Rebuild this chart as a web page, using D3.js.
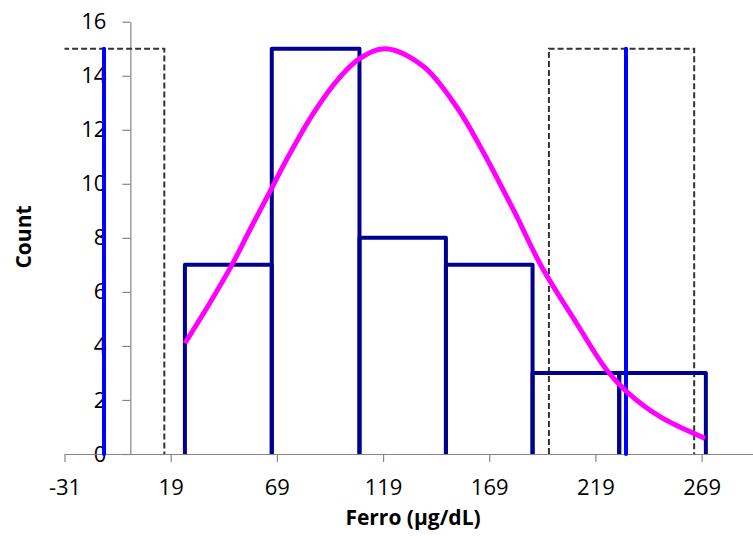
<!DOCTYPE html>
<html>
<head>
<meta charset="utf-8">
<script src="https://cdn.jsdelivr.net/npm/d3@7"></script>
<style>
  body { margin: 0; background: #fff; }
  svg { display: block; }
  .axis text { font-family: "Open Sans", sans-serif; font-size: 22px; fill: #000; }
  .axis path, .axis line { stroke: #868686; stroke-width: 1.2px; }
  .title { font-family: "Open Sans", sans-serif; font-size: 21px; font-weight: bold; }
</style>
</head>
<body>
<div id="grafico"></div>
<script>
// histogram bins (Ferro, ug/dL) and counts
var binEdges = [25.7, 66.6, 107.9, 148.6, 189.4, 230.2, 271.0];
var counts = [7, 15, 8, 7, 3, 3];

// fitted curve
var curveX = [25.7, 37.5, 47.7, 56.3, 65.8, 73.6, 86.1, 98.7, 108.1, 120.0, 137.9, 153.6, 164.6, 180.3, 193.7, 210.1, 224.3, 233.7, 249.4, 270.6];
var curveY = [4.10, 5.60, 6.98, 8.30, 9.72, 10.90, 12.60, 13.95, 14.64, 15.0, 14.35, 12.85, 11.40, 9.05, 6.93, 4.84, 3.11, 2.31, 1.38, 0.58];

// blue limit lines and dashed boxes
var limitLines = [-12.4, 233.4];
var limitHeight = 15;
var boxStart = [-40, 197.1];
var boxEnd = [16.0, 265.5];
var boxHeight = 15;

var xTicks = [-31, 19, 69, 119, 169, 219, 269];
var yTicks = [0, 2, 4, 6, 8, 10, 12, 14, 16];

var W = 753, H = 536;

var svg = d3.select("#grafico").append("svg")
	.attr("width", W)
	.attr("height", H);

// set the ranges
var x = d3.scaleLinear().domain([-31, 293.2]).range([64.5, 753]);
var y = d3.scaleLinear().domain([0, 16]).range([454, 21.7]);

svg.append("clipPath").attr("id", "plot")
  .append("rect")
	.attr("x", x(-31))
	.attr("y", 0)
	.attr("width", W - x(-31))
	.attr("height", y(0) + 3);

var line = d3.line()
	.x(function(d) { return x(d[0]); })
	.y(function(d) { return y(d[1]); });

var g = svg.append("g").attr("clip-path", "url(#plot)");

// dashed boxes
boxStart.forEach(function(s, i) {
	g.append("path")
		.attr("d", line([[s, 0], [s, boxHeight], [boxEnd[i], boxHeight], [boxEnd[i], 0]]))
		.style("fill", "none")
		.style("stroke", "#333")
		.style("stroke-width", 2)
		.style("stroke-dasharray", "6,3");
});

// histogram bars, open at the bottom
counts.forEach(function(c, i) {
	var a = binEdges[i], b = binEdges[i + 1];
	g.append("path")
		.attr("d", line([[a, 0], [a, c], [b, c], [b, 0]]))
		.style("fill", "none")
		.style("stroke", "#000090")
		.style("stroke-width", 4)
		.style("stroke-linejoin", "round");
});

// blue limit lines
limitLines.forEach(function(v) {
	g.append("path")
		.attr("d", line([[v, 0], [v, limitHeight]]))
		.style("stroke", "#0000ff")
		.style("stroke-width", 4)
		.style("stroke-linecap", "round");
});

// the curve
var curve = d3.line()
	.x(function(d, i) { return x(curveX[i]); })
	.y(function(d) { return y(d); })
	.curve(d3.curveCatmullRom.alpha(0.5));

g.append("path")
	.attr("d", curve(curveY))
	.style("fill", "none")
	.style("stroke", "#ff00ff")
	.style("stroke-width", 5);

// plain hyphen for negatives, like the original
function fmt(d) { return String(d); }

// Add the X Axis
svg.append("g")
	.attr("class", "axis")
	.attr("transform", "translate(0," + y(0) + ")")
	.call(d3.axisBottom(x).tickValues(xTicks).tickFormat(fmt).tickSize(8).tickSizeOuter(0).tickPadding(17))
	.lower();

// Add the Y Axis
svg.append("g")
	.attr("class", "axis")
	.attr("transform", "translate(" + x(0) + ",0)")
	.call(d3.axisLeft(y).tickValues(yTicks).tickFormat(fmt).tickSize(8).tickSizeOuter(0).tickPadding(16))
	.lower();

svg.append("text")
	.attr("class", "title")
	.attr("x", 413)
	.attr("y", 525)
	.attr("text-anchor", "middle")
	.text("Ferro (µg/dL)");

svg.append("text")
	.attr("class", "title")
	.attr("transform", "translate(31,237) rotate(-90)")
	.attr("text-anchor", "middle")
	.text("Count");
</script>
</body>
</html>
